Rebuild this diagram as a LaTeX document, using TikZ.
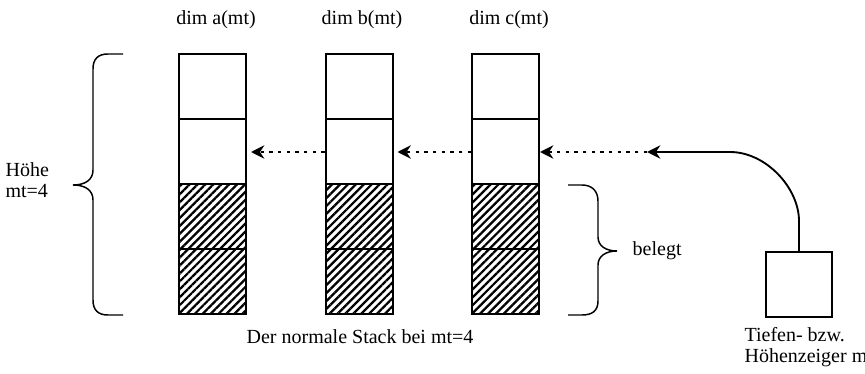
\documentclass[tikz,border=0pt]{standalone}
\usepackage{fontspec}
\setmainfont{Liberation Serif}
\usetikzlibrary{arrows.meta,patterns.meta}

\begin{document}
\begin{tikzpicture}[x=0.75pt,y=-0.75pt,
	font=\fontsize{15}{16}\selectfont,
	cell/.style={draw, line width=1.5pt, minimum width=50.25pt, minimum height=48.75pt, inner sep=0pt},
	used/.style={cell, pattern={Lines[angle=45,distance=4.2pt,line width=1.7pt]}},
	ptr/.style={line width=1.4pt, -{Stealth[length=10pt,width=10pt]}},
	link/.style={ptr, dash pattern=on 2.5pt off 4pt},
	brc/.style={line width=1.1pt}]
	\useasboundingbox (0,0) rectangle (865,374);
	\clip (0,0) rectangle (865,374);
	% the three stacks
	\node (a1) at (212.5,87) [cell] {};
	\node (a2) at (212.5,152) [cell] {};
	\node (a3) at (212.5,217) [used] {};
	\node (a4) at (212.5,282) [used] {};
		\node (b1) at (359,87) [cell] {};
		\node (b2) at (359,152) [cell] {};
		\node (b3) at (359,217) [used] {};
		\node (b4) at (359,282) [used] {};
			\node (c1) at (505.5,87) [cell] {};
			\node (c2) at (505.5,152) [cell] {};
			\node (c3) at (505.5,217) [used] {};
			\node (c4) at (505.5,282) [used] {};
	\node (dima) at (216,20) {dim a(mt)};
	\node (dimb) at (362,20) {dim b(mt)};
	\node (dimc) at (509,20) {dim c(mt)};
	\node (stack) at (360,337) {Der normale Stack bei mt=4};
	% pointer
	\node (ptrbox) at (799,284.5) [cell, minimum width=49.5pt] {};
	\node (zeiger) at (743,347) [anchor=west, align=left, inner sep=1pt] {Tiefen- bzw.\\Höhenzeiger mt};
	\coordinate (tip) at (647,152);
	\coordinate (bend) at (730,152);
	\draw[ptr] (ptrbox.north) -- ++(0,-30) .. controls (799,188) and (766,152) .. (bend) -- (tip);
	\draw[link] (tip) -- (c2.east);
	\draw[link, shorten >=3pt] (c2.west) -- (b2.east);
	\draw[link, shorten >=3pt] (b2.west) -- (a2.east);
	% braces
	\draw[brc] (123,54) -- (108,54) .. controls (98,54) and (93,59) .. (93,69) -- (93,170) .. controls (93,180) and (85,185) .. (73,185) .. controls (85,185) and (93,190) .. (93,200) -- (93,300) .. controls (93,310) and (98,315) .. (108,315) -- (123,315);
	\node (hoehe) at (4,180) [anchor=west, align=left, inner sep=1pt] {Höhe\\mt=4};
	\draw[brc] (568,185) -- (582,185) .. controls (592,185) and (598,191) .. (598,201) -- (598,237) .. controls (598,246) and (606,251) .. (617,251) .. controls (606,251) and (598,256) .. (598,265) -- (598,301) .. controls (598,311) and (592,315) .. (582,315) -- (568,315);
	\node (belegt) at (628,251) [anchor=west] {belegt};
\end{tikzpicture}
\end{document}
